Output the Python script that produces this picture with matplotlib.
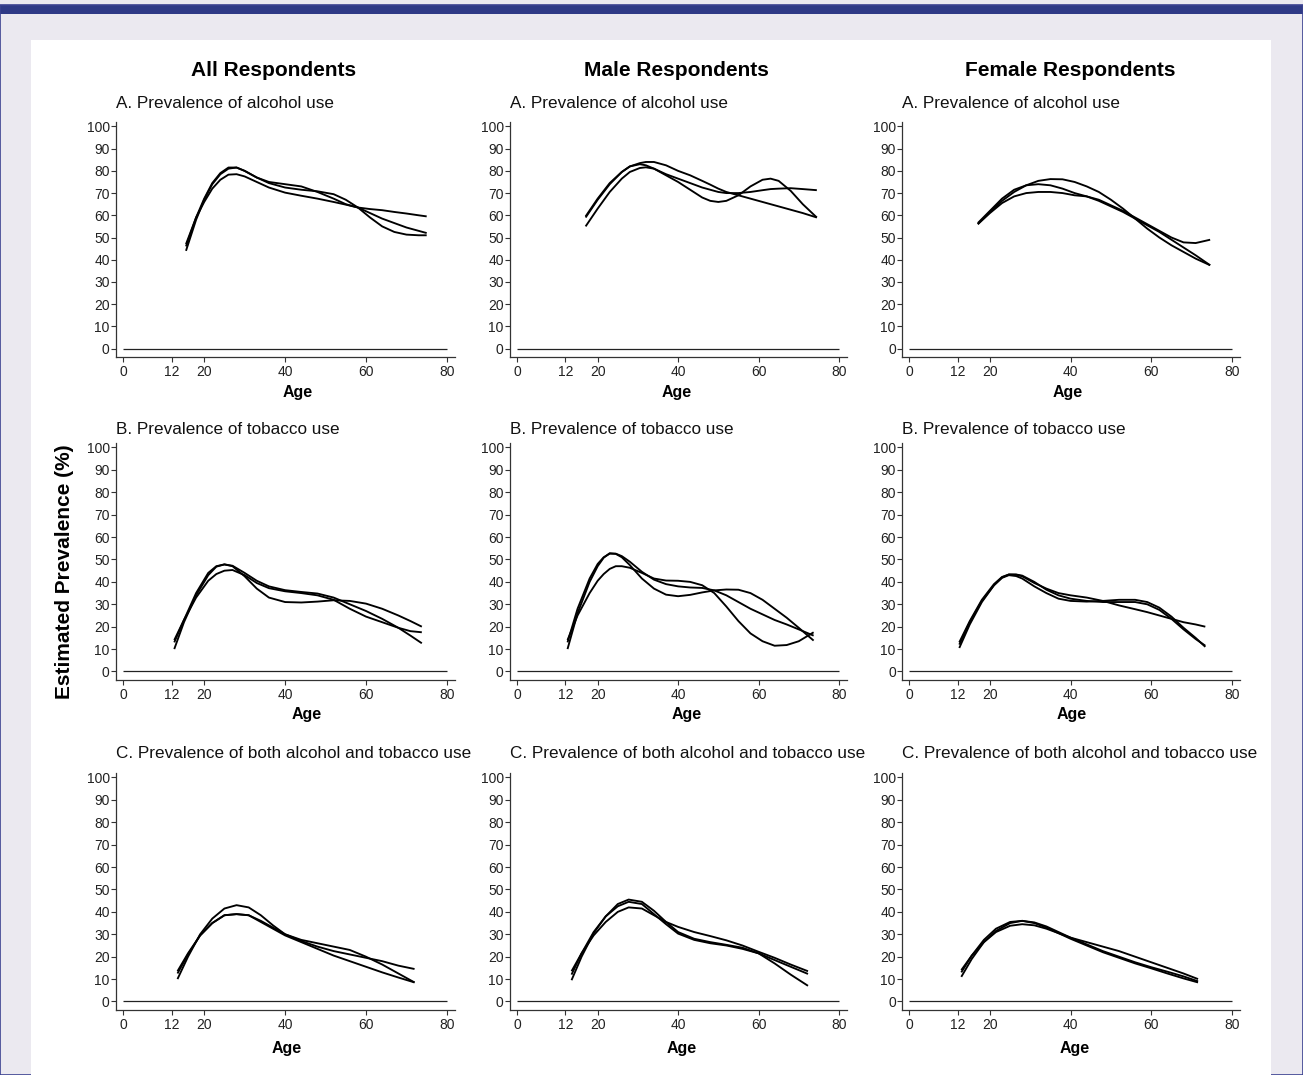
import matplotlib
matplotlib.use("Agg")
import matplotlib.pyplot as plt
from matplotlib.patches import Rectangle

plt.rcParams['font.family'] = ['Liberation Sans', 'DejaVu Sans']

W, H = 1303, 1075

column_titles = ['All Respondents', 'Male Respondents', 'Female Respondents']
row_titles = ['A. Prevalence of alcohol use',
              'B. Prevalence of tobacco use',
              'C. Prevalence of both alcohol and tobacco use']
x_ticks = [0, 12, 20, 40, 60, 80]
y_ticks = list(range(0, 101, 10))

# --- A. alcohol ---
all_alc_age = [15.5, 18, 20, 22, 24, 26, 28, 30, 33, 36, 40, 44, 48, 52, 55, 58, 61, 64, 67, 70, 73, 75]
all_alc_1 = [44, 58, 67, 74, 78.5, 81, 81.5, 80, 77, 74.5, 72.5, 71.5, 70.8, 69.5, 67, 63.5, 59, 55, 52.5, 51.3, 51, 51]
all_alc_2 = [46, 59, 67.5, 74.5, 79, 81.5, 81.5, 80, 77, 75, 74, 73, 70.5, 67.5, 65, 63.5, 61, 58.5, 56.5, 54.5, 53, 52]
all_alc_3 = [47, 59, 66, 72, 76, 78.3, 78.5, 77.5, 75, 72.5, 70.2, 68.8, 67.5, 66, 64.8, 63.5, 62.8, 62.3, 61.5, 60.8, 60, 59.5]

male_alc_age = [17, 20, 23, 26, 28, 30.5, 32, 34, 37, 40, 43, 46, 48, 50, 52, 55, 58, 61, 63, 65, 68, 71, 74.5]
male_alc_1 = [59, 67, 74, 79.5, 82, 83, 82.5, 81, 78, 75, 71.5, 68, 66.5, 66, 66.5, 69, 73, 76, 76.5, 75.5, 71, 65, 59]
male_alc_2 = [59.5, 67.5, 74.5, 79.5, 82, 83.5, 84, 84, 82.5, 80, 78, 75.5, 73.8, 72, 70.5, 69, 67.5, 66, 65, 64, 62.5, 61, 59]
male_alc_3 = [55, 63, 70.5, 76.5, 79.5, 81.3, 81.6, 81, 78.5, 76.5, 74.5, 72.5, 71.5, 70.5, 70, 70, 70.5, 71.3, 71.8, 72, 72.2, 71.8, 71.3]

female_alc_age = [17, 20, 23, 26, 29, 32, 35, 38, 41, 44, 47, 50, 53, 56, 59, 62, 65, 68, 71, 74.6]
female_alc_1 = [56, 61.5, 66.5, 70.5, 73.5, 75.5, 76.3, 76.2, 75, 73, 70.5, 67, 63, 58.5, 54, 50, 46.5, 43.5, 40.5, 37.5]
female_alc_2 = [56.5, 62, 67.5, 71.5, 73.5, 74, 73.5, 72, 70, 68.5, 66.5, 64, 61.5, 58.5, 55.5, 52.5, 49, 45.5, 42, 37.5]
female_alc_3 = [56, 61, 65.5, 68.5, 70, 70.5, 70.5, 70, 69, 68.5, 67, 64.5, 62, 59, 56, 53, 50, 47.8, 47.5, 49]

# --- B. tobacco ---
all_tob_age = [12.6, 15, 18, 21, 23, 25, 27, 30, 33, 36, 40, 44, 48, 52, 56, 60, 64, 68, 71, 73.8]
all_tob_1 = [10, 22, 34, 43, 46.8, 47.8, 47, 42.5, 37, 33, 31, 30.8, 31.2, 31.8, 31.5, 30.3, 28, 25, 22.5, 20]
all_tob_2 = [13, 23, 35, 44, 47, 47.8, 47.2, 44, 40.5, 38, 36.3, 35.5, 34.8, 33, 30, 27, 23.5, 19.5, 16, 12.6]
all_tob_3 = [14, 23, 33, 40.5, 43.5, 45, 45.3, 43, 39.5, 37.2, 35.8, 35, 34, 32, 28, 24.5, 22, 19.5, 18, 17.5]

male_tob_age = [12.5, 15, 18, 20, 21.5, 23, 24.5, 26, 28, 31, 34, 37, 40, 43, 46, 49, 52, 55, 58, 61, 64, 67, 70, 73.7]
male_tob_1 = [10, 26, 40, 47, 50.8, 52.8, 52.5, 51, 47.5, 41.5, 37, 34.3, 33.6, 34.2, 35.3, 36.2, 36.6, 36.5, 35, 32, 28, 24, 19.5, 13.8]
male_tob_2 = [13, 28, 41.5, 48, 51, 52.6, 52.6, 51.5, 49, 44.5, 41, 39, 38, 37.5, 37.3, 36.2, 34, 31, 28, 25.5, 23, 21, 18.8, 16]
male_tob_3 = [14, 25, 35, 40.5, 43.5, 45.8, 47, 47, 46.3, 44, 41.5, 40.6, 40.5, 40, 38.5, 35, 29, 22.5, 17, 13.5, 11.5, 11.8, 13.5, 17.5]

female_tob_age = [12.4, 15, 18, 21, 23, 24.7, 26.5, 28, 31, 34, 37, 40, 44, 48, 52, 56, 59, 62, 65, 68, 71, 73.4]
female_tob_1 = [12, 22, 31.5, 38.5, 42, 43.3, 43.2, 42.5, 39.5, 37, 35, 34, 33, 31.5, 29.5, 27.8, 26.5, 25, 23.5, 22, 21, 20]
female_tob_2 = [10.5, 21, 31, 38.5, 41.8, 43, 42.6, 41.5, 38, 35, 32.5, 31.5, 31.2, 31.5, 32, 32, 31, 28.5, 24.5, 19.5, 15, 11]
female_tob_3 = [13, 22.5, 32, 39, 42.2, 43.3, 43.3, 42.8, 40, 36.5, 34, 32.5, 31.5, 31, 31, 31, 30, 27.5, 23.5, 18.8, 14.5, 11.5]

# --- C. both ---
all_both_age = [13.4, 16, 19, 22, 25, 28, 31, 34, 37, 40, 44, 48, 52, 56, 60, 64, 68, 72]
all_both_1 = [10, 20, 30, 37, 41.5, 43, 42, 38.5, 34, 30, 27.5, 26, 24.5, 23, 20, 16.5, 12.5, 8.5]
all_both_2 = [13.5, 21.5, 29.5, 35, 38.5, 39, 38.5, 36, 33, 30, 27, 24.5, 22.5, 21, 19.5, 18, 16, 14.5]
all_both_3 = [12.5, 21, 29.5, 35, 38.5, 39, 38.5, 35.5, 32.5, 29.5, 26.5, 23.5, 20.5, 18, 15.5, 13, 10.7, 8.5]

male_both_age = [13.5, 16, 19, 22, 25, 27.7, 31, 34, 37, 40, 44, 48, 52, 56, 60, 64, 68, 72.3]
male_both_1 = [9.5, 20, 30.5, 38, 43.5, 45.5, 44.5, 40.5, 35.5, 31, 28, 26.5, 25.3, 24, 21.5, 17, 12, 7]
male_both_2 = [12, 21.5, 31, 38, 42.5, 44.5, 43.5, 39, 34.5, 30.3, 27.5, 26, 25, 23.5, 21.5, 18.5, 15.5, 12.3]
male_both_3 = [13.5, 21.5, 29.5, 35.5, 40, 42, 41.5, 38.5, 35.5, 33.3, 31, 29.2, 27.3, 25, 22.2, 19.5, 16.5, 13.5]

female_both_age = [12.9, 15.5, 18.5, 21.5, 25, 28, 31, 34, 37, 40, 44, 48, 52, 56, 60, 64, 68, 71.6]
female_both_1 = [11, 19, 26.5, 31.5, 35, 36, 35.3, 33.5, 31, 28.5, 25.5, 22.5, 20, 17.5, 15.3, 13.3, 11.2, 9]
female_both_2 = [13, 20.5, 27.5, 32.5, 35.5, 36, 35, 33, 30.5, 28, 25, 22, 19.5, 17, 14.8, 12.5, 10.3, 8.5]
female_both_3 = [14, 20.5, 26.5, 31, 33.8, 34.5, 34, 32.5, 30.5, 28.5, 26.5, 24.5, 22.5, 20, 17.5, 15, 12.5, 10]

panels = [
    [(all_alc_age, [all_alc_1, all_alc_2, all_alc_3]),
     (male_alc_age, [male_alc_1, male_alc_2, male_alc_3]),
     (female_alc_age, [female_alc_1, female_alc_2, female_alc_3])],
    [(all_tob_age, [all_tob_1, all_tob_2, all_tob_3]),
     (male_tob_age, [male_tob_1, male_tob_2, male_tob_3]),
     (female_tob_age, [female_tob_1, female_tob_2, female_tob_3])],
    [(all_both_age, [all_both_1, all_both_2, all_both_3]),
     (male_both_age, [male_both_1, male_both_2, male_both_3]),
     (female_both_age, [female_both_1, female_both_2, female_both_3])],
]

# layout in pixels
col_left = [116, 510, 902]
col_right = [455, 847, 1240]
row_top = [122, 443, 773]
row_bottom = [357, 680, 1010]
age_label_x = [[298, 677, 1068], [307, 687, 1072], [287, 682, 1075]]
age_label_y = [392, 715, 1048]
title_y = [104, 430, 753]


def fx(px):
    return px / W


def fy(py):
    return 1 - py / H


fig = plt.figure(figsize=(W / 100, H / 100), dpi=100)
fig.patch.set_facecolor('#ebe9f0')

# page decoration, kept behind the axes
fig.patches.append(Rectangle((0, fy(14)), 1, fy(5) - fy(14), transform=fig.transFigure,
                             facecolor='#2f3a86', edgecolor='none', zorder=-10))
fig.patches.append(Rectangle((0, 0), 1, fy(5), transform=fig.transFigure,
                             facecolor='none', edgecolor='#3b4290', lw=1.2, zorder=-10))
fig.patches.append(Rectangle((fx(31), 0), fx(1271) - fx(31), fy(40), transform=fig.transFigure,
                             facecolor='white', edgecolor='none', zorder=-10))

for r in range(3):
    for c in range(3):
        ax = fig.add_axes([fx(col_left[c]), fy(row_bottom[r]),
                           fx(col_right[c] - col_left[c]), (row_bottom[r] - row_top[r]) / H])
        ax.set_zorder(1)
        ax.set_facecolor('none')
        ages, series = panels[r][c]
        for s in series:
            ax.plot(ages, s, color='black', lw=1.35, solid_capstyle='butt',
                    solid_joinstyle='round')
        ax.hlines(0, 0, 80, color='#222222', lw=0.9)
        ax.set_xlim(-1.8, 82)
        ax.set_ylim(-3.8, 102)
        ax.set_xticks(x_ticks)
        ax.set_yticks(y_ticks)
        for side in ['top', 'right']:
            ax.spines[side].set_visible(False)
        for side in ['left', 'bottom']:
            ax.spines[side].set_color('#333333')
            ax.spines[side].set_linewidth(0.9)
        ax.tick_params(axis='both', length=3.5, width=0.8, color='#333333',
                       labelsize=10, labelcolor='#222222')
        ax.tick_params(axis='y', pad=1)
        ax.tick_params(axis='x', pad=2)
        fig.text(fx(col_left[c]), fy(title_y[r]), row_titles[r], fontsize=12.3,
                 ha='left', va='center', color='#111111')
        fig.text(fx(age_label_x[r][c]), fy(age_label_y[r]), 'Age', fontsize=11.5,
                 fontweight='bold', ha='center', va='center')

for c, x in enumerate([274, 676, 1070]):
    fig.text(fx(x), fy(70), column_titles[c], fontsize=15, fontweight='bold',
             ha='center', va='center')

fig.text(fx(65), fy(572), 'Estimated Prevalence (%)', fontsize=15, fontweight='bold',
         rotation=90, ha='center', va='center')

fig.savefig('out.png', dpi=100, facecolor=fig.get_facecolor())
